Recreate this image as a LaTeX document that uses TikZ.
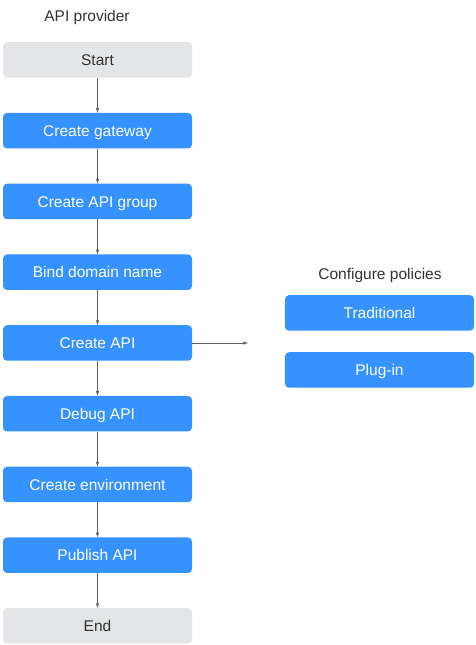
\documentclass[tikz,border=0pt]{standalone}
\usepackage{fontspec}
\setmainfont{Liberation Sans}
\usetikzlibrary{arrows}
\definecolor{stepblue}{RGB}{53,146,255}
\definecolor{stepgray}{RGB}{227,229,230}
\definecolor{linegray}{RGB}{96,96,96}
\definecolor{textgray}{RGB}{51,51,51}
\tikzset{
	bluebox/.style={rectangle, rounded corners=4pt, fill=stepblue, text=white, minimum width=189pt, minimum height=35.5pt, inner sep=0pt, text height=11.5pt, text depth=0pt, font=\fontsize{15.5}{18}\selectfont},
	graybox/.style={bluebox, fill=stepgray, text=textgray},
	caption/.style={text=textgray, font=\fontsize{15.5}{18}\selectfont},
	flow/.style={-latex, linegray, line width=0.6pt}
}
\begin{document}
\begin{tikzpicture}[x=1pt, y=1pt]
		\useasboundingbox (0,0) rectangle (475,645);
		
		\node[caption] (provider) at (87,627) {API provider};
		\node[graybox] (start) at (97.5,585) {Start};
		\node[bluebox] (gateway) at (97.5,514.25) {Create gateway};
		\node[bluebox] (group) at (97.5,443.5) {Create API group};
		\node[bluebox] (domain) at (97.5,372.75) {Bind domain name};
		\node[bluebox] (api) at (97.5,302) {Create API};
		\node[bluebox] (debug) at (97.5,231.25) {Debug API};
		\node[bluebox] (env) at (97.5,160.5) {Create environment};
		\node[bluebox] (publish) at (97.5,89.75) {Publish API};
		\node[graybox] (end) at (97.5,19) {End};
		
		\node[caption] (policies) at (380,370) {Configure policies};
		\node[bluebox] (traditional) at (379.5,332) {Traditional};
		\node[bluebox] (plugin) at (379.5,275) {Plug-in};
		
		\draw [flow] (start) -- (gateway);
		\draw [flow] (gateway) -- (group);
		\draw [flow] (group) -- (domain);
		\draw [flow] (domain) -- (api);
		\draw [flow] (api) -- (debug);
		\draw [flow] (debug) -- (env);
		\draw [flow] (env) -- (publish);
		\draw [flow] (publish) -- (end);
		
		\coordinate (policytip) at (248,302);
		\draw [flow] (api) -- (policytip);
	\end{tikzpicture}
\end{document}
